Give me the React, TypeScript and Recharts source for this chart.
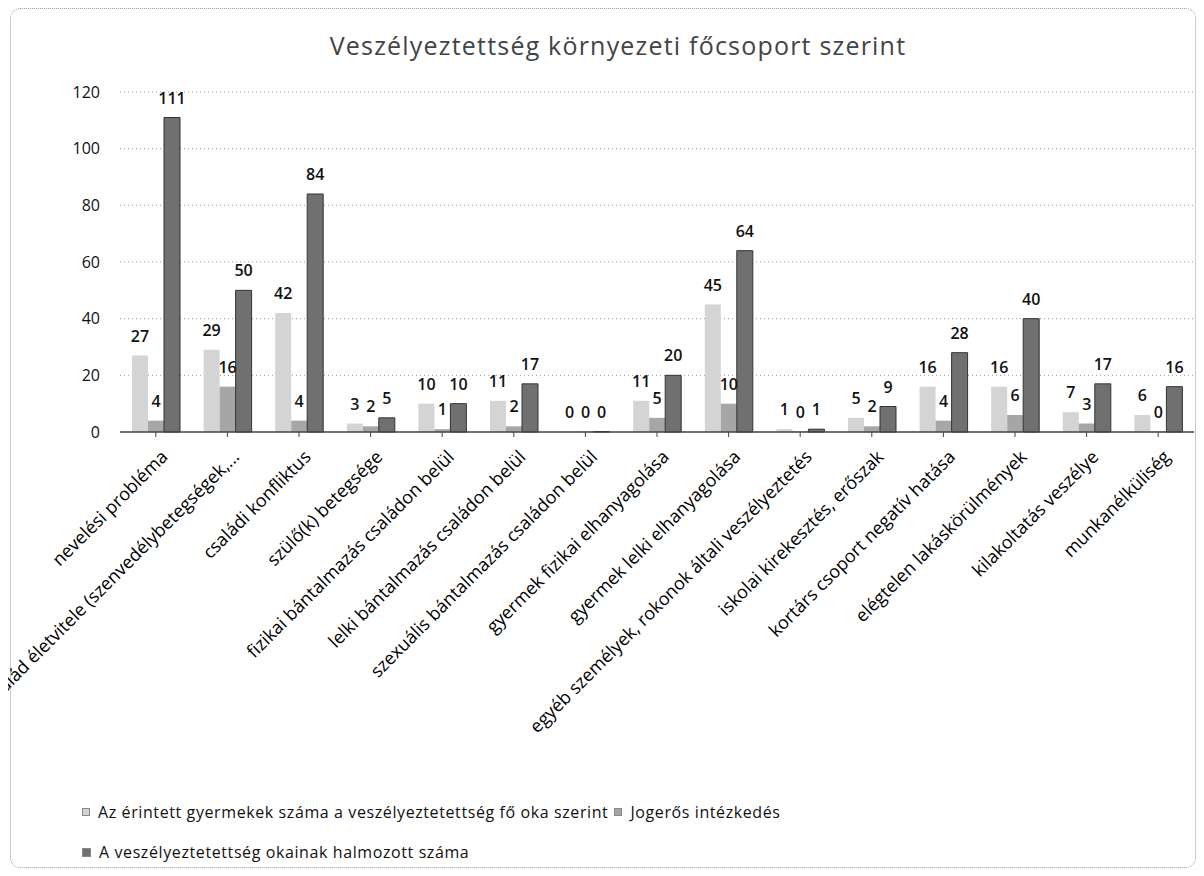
import { BarChart, Bar, XAxis, YAxis, CartesianGrid, Legend, LabelList } from "recharts"

const categories = [
  "nevelési probléma",
  "család életvitele (szenvedélybetegségek,...",
  "családi konfliktus",
  "szülő(k) betegsége",
  "fizikai bántalmazás családon belül",
  "lelki bántalmazás családon belül",
  "szexuális bántalmazás családon belül",
  "gyermek fizikai elhanyagolása",
  "gyermek lelki elhanyagolása",
  "egyéb személyek, rokonok általi veszélyeztetés",
  "iskolai kirekesztés, erőszak",
  "kortárs csoport negatív hatása",
  "elégtelen lakáskörülmények",
  "kilakoltatás veszélye",
  "munkanélküliség",
]

const erintettGyermekek = [27, 29, 42, 3, 10, 11, 0, 11, 45, 1, 5, 16, 16, 7, 6]
const jogerosIntezkedes = [4, 16, 4, 2, 1, 2, 0, 5, 10, 0, 2, 4, 6, 3, 0]
const halmozottSzam = [111, 50, 84, 5, 10, 17, 0, 20, 64, 1, 9, 28, 40, 17, 16]

const yTicks = [0, 20, 40, 60, 80, 100, 120]

const seriesNames = [
  "Az érintett gyermekek száma a veszélyeztetettség fő oka szerint",
  "Jogerős intézkedés",
  "A veszélyeztetettség okainak halmozott száma",
]
const seriesColors = ["#d4d4d4", "#a6a6a6", "#707070"]

const title = "Veszélyeztettség környezeti főcsoport szerint"

const FONT = "'Open Sans', 'Noto Sans', sans-serif"

const data = categories.map((name, i) => ({
  name,
  erintett: erintettGyermekek[i],
  jogeros: jogerosIntezkedes[i],
  halmozott: halmozottSzam[i],
}))

// zero values still need a label, so give them a hairline height
const zeroMin = (value: number) => (value === 0 ? 0.5 : 0)

function CategoryTick({ x, y, payload }: any) {
  const ax = x + 13
  const ay = y + 19
  return (
    <text
      x={ax}
      y={ay}
      transform={`rotate(-45, ${ax}, ${ay})`}
      textAnchor="end"
      fontSize={18}
      fill="#000"
      fontFamily={FONT}
    >
      {payload.value}
    </text>
  )
}

function LegendBox() {
  const marker = (color: string, size: number) => (
    <span
      style={{
        display: "inline-block",
        width: size,
        height: size,
        background: color,
        border: "1px solid #888",
        boxSizing: "border-box",
        marginRight: 8,
      }}
    />
  )
  const row: React.CSSProperties = {
    position: "absolute",
    left: 74,
    display: "flex",
    alignItems: "center",
    whiteSpace: "nowrap",
  }
  return (
    <div
      style={{
        height: 72,
        position: "relative",
        fontFamily: FONT,
        fontSize: 16,
        letterSpacing: 0.6,
        color: "#111",
      }}
    >
      <div style={{ ...row, top: 3 }}>
        {[0, 1].map((i) => (
          <span key={i} style={{ display: "inline-flex", alignItems: "center", marginRight: 6 }}>
            {marker(seriesColors[i], 8)}
            {seriesNames[i]}
          </span>
        ))}
      </div>
      <div style={{ ...row, top: 43 }}>
        <span style={{ display: "inline-flex", alignItems: "center" }}>
          {marker(seriesColors[2], 9)}
          {seriesNames[2]}
        </span>
      </div>
    </div>
  )
}

export default function App() {
  return (
    <div style={{ position: "relative", width: 1188, height: 862, background: "#fff" }}>
      <div
        style={{
          position: "absolute",
          left: 2,
          top: 0,
          width: 1186,
          height: 860,
          border: "1px dotted #999",
          borderRadius: 10,
          boxSizing: "border-box",
          pointerEvents: "none",
        }}
      />
      <div
        style={{
          position: "absolute",
          left: 0,
          width: 1220,
          top: 20,
          textAlign: "center",
          fontFamily: FONT,
          fontSize: 25,
          letterSpacing: 1.2,
          color: "#444",
        }}
      >
        {title}
      </div>
      <BarChart
        width={1188}
        height={862}
        data={data}
        margin={{ top: 84, right: 2, left: 0, bottom: 0 }}
        barGap={0}
        barCategoryGap={12}
      >
        <CartesianGrid vertical={false} stroke="#9a9a9a" strokeDasharray="1 3" />
        <XAxis
          dataKey="name"
          interval={0}
          height={366}
          tick={<CategoryTick />}
          tickSize={5}
          axisLine={{ stroke: "#444", strokeWidth: 1.5 }}
          tickLine={{ stroke: "#444" }}
        />
        <YAxis
          domain={[0, 120]}
          ticks={yTicks}
          width={112}
          axisLine={false}
          tickLine={false}
          tickMargin={14}
          tick={{ fontSize: 16, fill: "#111", fontFamily: FONT }}
        />
        <Legend verticalAlign="bottom" content={<LegendBox />} wrapperStyle={{ left: 0, bottom: 0, width: 1188 }} />
        <Bar dataKey="erintett" name={seriesNames[0]} fill={seriesColors[0]} minPointSize={zeroMin} isAnimationActive={false}>
          <LabelList dataKey="erintett" position="top" offset={14} fontSize={16} fontWeight={600} fill="#111" fontFamily={FONT} />
        </Bar>
        <Bar dataKey="jogeros" name={seriesNames[1]} fill={seriesColors[1]} minPointSize={zeroMin} isAnimationActive={false}>
          <LabelList dataKey="jogeros" position="top" offset={14} fontSize={16} fontWeight={600} fill="#111" fontFamily={FONT} />
        </Bar>
        <Bar
          dataKey="halmozott"
          name={seriesNames[2]}
          fill={seriesColors[2]}
          stroke="#333"
          strokeWidth={1}
          minPointSize={zeroMin}
          isAnimationActive={false}
        >
          <LabelList dataKey="halmozott" position="top" offset={14} fontSize={16} fontWeight={600} fill="#111" fontFamily={FONT} />
        </Bar>
      </BarChart>
    </div>
  )
}
